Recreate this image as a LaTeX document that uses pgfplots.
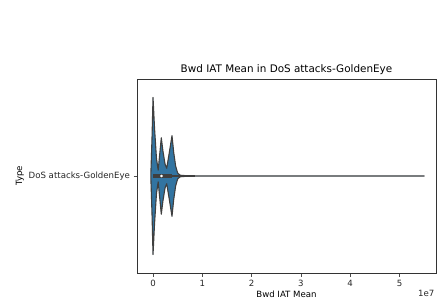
\documentclass[border=0pt]{standalone}
\usepackage{fontspec}
\setmainfont{DejaVu Sans}
\usepackage{pgfplots}
\pgfplotsset{compat=1.18}
\definecolor{vblue}{HTML}{3274A1}
\definecolor{vgray}{HTML}{3F3F3F}
\begin{document}
\begin{tikzpicture}[x=1pt,y=1pt]
\path[use as bounding box] (0,0) rectangle (437,301);
\begin{axis}[
  at={(137pt,28pt)}, anchor=south west,
  scale only axis, width=299pt, height=194pt,
  xmin=-0.325e7, xmax=5.74e7,
  ymin=-0.5, ymax=0.5,
  xtick={0,1e7,2e7,3e7,4e7,5e7},
  xticklabels={0,1,2,3,4,5},
  ytick={0}, yticklabels={DoS attacks-GoldenEye},
  scaled x ticks=false,
  tick align=outside, tick pos=left,
  major tick length=3.5pt,
  tick style={black!70, line width=0.6pt},
  axis line style={black!80, line width=0.6pt},
  ticklabel style={font=\fontsize{8.6}{10}\selectfont, text=black!85},
  /pgf/number format/assume math mode=true,
  title={Bwd IAT Mean in DoS attacks-GoldenEye},
  title style={font=\fontsize{10.4}{12}\selectfont, yshift=-5pt},
  xlabel={Bwd IAT Mean},
  xlabel style={font=\fontsize{8.6}{10}\selectfont, yshift=2pt},
  ylabel={Type},
  ylabel style={font=\fontsize{8.6}{10}\selectfont, yshift=-2pt},
  clip=false,
]
\addplot[fill=vblue, draw=vgray, line width=1.1pt, line join=round] coordinates {
(-0.045e7,0) (-0.02e7,0.2) (0.0,0.405) (0.03e7,0.25) (0.07e7,0.09) (0.105e7,0.03)
(0.135e7,0.11) (0.168e7,0.197) (0.2e7,0.13) (0.245e7,0.06) (0.278e7,0.04)
(0.33e7,0.12) (0.385e7,0.208) (0.42e7,0.12) (0.46e7,0.05) (0.5e7,0.015)
(0.55e7,0.004) (0.7e7,0.001) (5.5e7,0.0005)
(5.5e7,-0.0005) (0.7e7,-0.001) (0.55e7,-0.004)
(0.5e7,-0.015) (0.46e7,-0.05) (0.42e7,-0.12) (0.385e7,-0.208) (0.33e7,-0.12)
(0.278e7,-0.04) (0.245e7,-0.06) (0.2e7,-0.13) (0.168e7,-0.197) (0.135e7,-0.11)
(0.105e7,-0.03) (0.07e7,-0.09) (0.03e7,-0.25) (0.0,-0.405) (-0.02e7,-0.2)
(-0.045e7,0)} -- cycle;
\addplot[vgray, line width=1.5pt] coordinates {(0,0) (0.86e7,0)};
\addplot[vgray, line width=4pt] coordinates {(0,0) (0.38e7,0)};
\addplot[only marks, mark=*, mark size=1.1pt, white] coordinates {(0.17e7,0)};
\node[anchor=north east, font=\fontsize{8.6}{10}\selectfont, text=black!85] at (rel axis cs:1,0) [yshift=-14pt, xshift=2pt] {1e7};
\end{axis}
\end{tikzpicture}
\end{document}
